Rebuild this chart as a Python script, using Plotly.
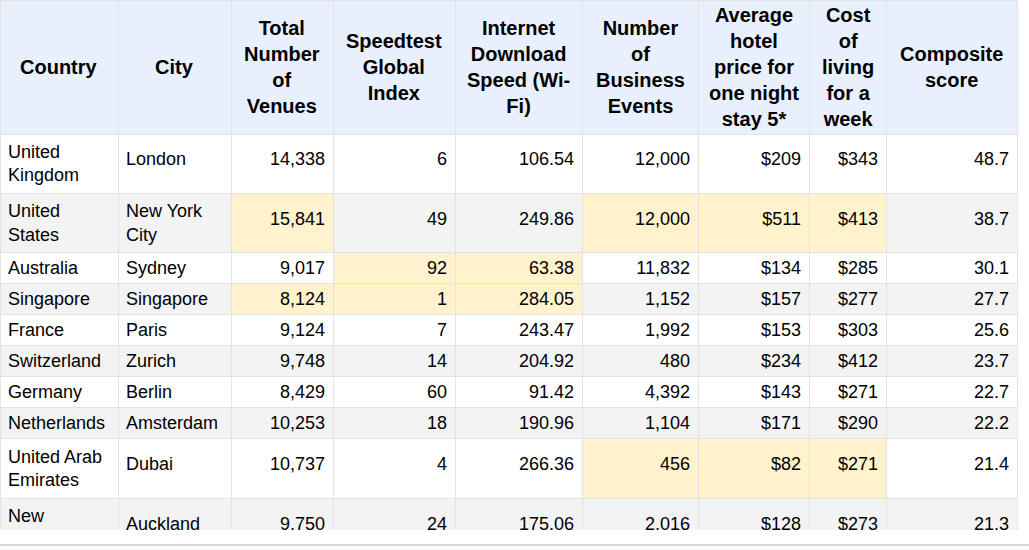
import plotly.graph_objects as go

# ---- data ----
countries = ["United Kingdom", "United States", "Australia", "Singapore", "France",
             "Switzerland", "Germany", "Netherlands", "United Arab Emirates", "New Zealand"]
cities = ["London", "New York City", "Sydney", "Singapore", "Paris",
          "Zurich", "Berlin", "Amsterdam", "Dubai", "Auckland"]
venues = [14338, 15841, 9017, 8124, 9124, 9748, 8429, 10253, 10737, 9750]
speedtest = [6, 49, 92, 1, 7, 14, 60, 18, 4, 24]
download = [106.54, 249.86, 63.38, 284.05, 243.47, 204.92, 91.42, 190.96, 266.36, 175.06]
events = [12000, 12000, 11832, 1152, 1992, 480, 4392, 1104, 456, 2016]
hotel = [209, 511, 134, 157, 153, 234, 143, 171, 82, 128]
cost_week = [343, 413, 285, 277, 303, 412, 271, 290, 271, 273]
composite = [48.7, 38.7, 30.1, 27.7, 25.6, 23.7, 22.7, 22.2, 21.4, 21.3]

headers = ["Country", "City", "Total<br>Number<br>of<br>Venues", "Speedtest<br>Global<br>Index",
           "Internet<br>Download<br>Speed (Wi-<br>Fi)", "Number<br>of<br>Business<br>Events",
           "Average<br>hotel<br>price for<br>one night<br>stay 5*", "Cost<br>of<br>living<br>for a<br>week",
           "Composite<br>score"]

# highlighted cells (row index, column index)
highlights = [(1, 2), (1, 5), (1, 6), (1, 7),
              (2, 3), (2, 4),
              (3, 2), (3, 3), (3, 4),
              (8, 5), (8, 6), (8, 7)]

# ---- display formatting ----
wrap = {"United Kingdom": "United<br>Kingdom", "United States": "United<br>States",
        "United Arab Emirates": "United Arab<br>Emirates", "New Zealand": "New<br>Zealand",
        "New York City": "New York<br>City"}

cols = [
    [wrap.get(c, c) for c in countries],
    [wrap.get(c, c) for c in cities],
    [f"{v:,}" for v in venues],
    [f"{v}" for v in speedtest],
    [f"{v:.2f}" for v in download],
    [f"{v:,}" for v in events],
    [f"${v}" for v in hotel],
    [f"${v}" for v in cost_week],
    [f"{v:.1f}" for v in composite],
]
nrows = len(countries)
# bottom-align text within a row
for r in range(nrows):
    n = max(col[r].count("<br>") for col in cols)
    for col in cols:
        col[r] = "<br>" * (n - col[r].count("<br>")) + col[r]

WHITE, GREY, YELLOW, HEAD = "#ffffff", "#f3f3f3", "#fff2cc", "#e8f0fe"
fills = []
for ci in range(len(cols)):
    colfill = []
    for r in range(nrows):
        if (r, ci) in highlights:
            colfill.append(YELLOW)
        else:
            colfill.append(WHITE if r % 2 == 0 else GREY)
    fills.append(colfill)

widths = [118, 113, 102, 122, 127, 116, 111, 77, 131]
W, H = 1029, 550
table_w = sum(widths)
header_h = 134
font = "Arial, 'Liberation Sans', sans-serif"

fig = go.Figure(go.Table(
    columnwidth=widths,
    columnorder=list(range(len(cols))),
    domain=dict(x=[0, table_w / W], y=[20 / H, 1]),
    header=dict(values=[""] * len(cols), height=header_h,
                fill_color=HEAD, line=dict(color="#e3e3e3", width=1)),
    cells=dict(values=cols, height=31,
               fill_color=fills,
               line=dict(color="#e3e3e3", width=1),
               align=["left", "left"] + ["right"] * 7,
               font=dict(family=font, size=18, color="#000000")),
))

# header labels, vertically centred in the header row
x0 = 0
for w, h in zip(widths, headers):
    fig.add_annotation(x=(x0 + w / 2) / W, y=1 - (header_h / 2) / H, xref="paper", yref="paper",
                       text=f"<b>{h}</b>", showarrow=False, align="center",
                       xanchor="center", yanchor="middle",
                       font=dict(family=font, size=20, color="#000000"))
    x0 += w

fig.add_shape(type="line", xref="paper", yref="paper", x0=0, x1=1, y0=5 / H, y1=5 / H,
              line=dict(color="#d9d9d9", width=2))

fig.update_layout(width=W, height=H, margin=dict(l=0, r=0, t=0, b=0),
                  paper_bgcolor="#ffffff", plot_bgcolor="#ffffff")
fig.write_html("out.html", config={"displayModeBar": False},
               post_script="document.body.style.margin='0px';")
